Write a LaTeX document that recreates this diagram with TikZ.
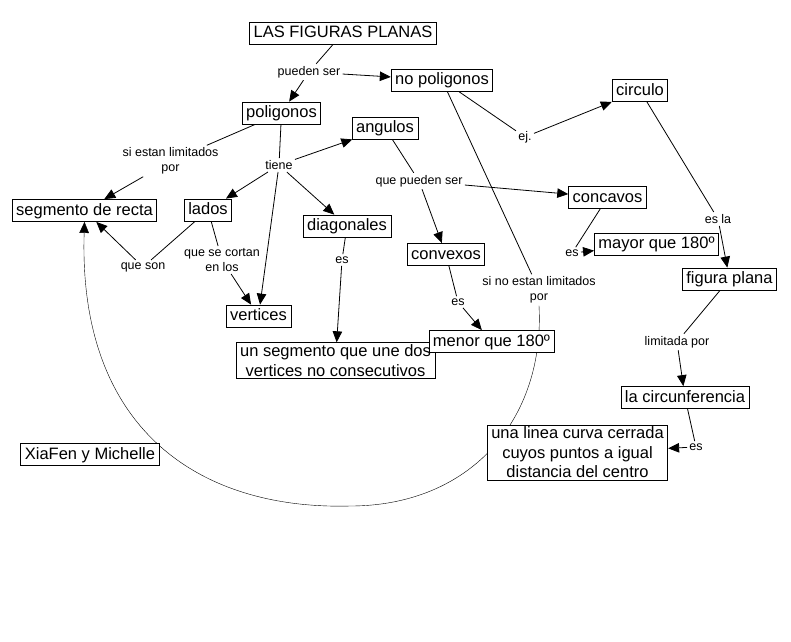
\documentclass[tikz,border=0pt]{standalone}
\usepackage{fontspec}
\setmainfont{Liberation Sans}
\usetikzlibrary{arrows.meta,backgrounds}
\newcommand\cfont{\fontsize{16.5}{19.5}\selectfont}
\newcommand\lfont{\fontsize{12.5}{15}\selectfont}
\begin{document}
\begin{tikzpicture}[x=1pt,y=-1pt,
    >={Triangle[length=11pt,width=9.5pt]},
    line width=0.8pt,
    cn/.style={draw,fill=white,font=\cfont,inner xsep=4pt,inner ysep=3pt,
               text height=12.5pt,text depth=3.5pt},
    cnm/.style={draw,fill=white,font=\cfont,inner xsep=4pt,inner ysep=2pt,
                align=center},
    lb/.style={font=\lfont,inner sep=2pt,align=center}]
  \useasboundingbox (0,0) rectangle (791,641);
  % concepts
  \node[cn] (lfp) at (343,33) {LAS FIGURAS PLANAS};
  \node[cn] (npol) at (442,80) {no poligonos};
  \node[cn] (pol) at (281.5,113) {poligonos};
  \node[cn] (ang) at (385,128) {angulos};
  \node[cn] (circ) at (640,90.5) {circulo};
  \node[cn] (conc) at (607.5,197.5) {concavos};
  \node[cn] (seg) at (84.5,210.5) {segmento de recta};
  \node[cn] (lad) at (208,210) {lados};
  \node[cn] (diag) at (347,226) {diagonales};
  \node[cn] (mayor) at (656.5,244) {mayor que 180º};
  \node[cn] (conv) at (446,254.5) {convexos};
  \node[cn] (fig) at (729.5,279) {figura plana};
  \node[cn] (vert) at (258.5,316) {vertices};
  \node[cnm] (useg) at (335.5,360.5) {un segmento que une dos\\vertices no consecutivos};
  \node[cn] (menor) at (491.5,341.5) {menor que 180º};
  \node[cn] (circunf) at (685,397.5) {la circunferencia};
  \node[cnm] (linea) at (577.5,452.5) {una linea curva cerrada\\cuyos puntos a igual\\distancia del centro};
  \node[cn] (xia) at (90,454.5) {XiaFen y Michelle};
  % linking words
  \node[lb] (pser) at (309,72) {pueden ser};
  \node[lb] (silim) at (170.5,161) {si estan limitados\\por};
  \node[lb] (tiene) at (279,165) {tiene};
  \node[lb] (ej) at (525,137) {ej.};
  \node[lb] (qpser) at (419,181) {que pueden ser};
  \node[lb] (esla) at (718,219) {es la};
  \node[lb] (es3) at (572,253) {es};
  \node[lb] (es1) at (342,260) {es};
  \node[lb] (qson) at (143,267) {que son};
  \node[lb] (qcort) at (222,260) {que se cortan\\en los};
  \node[lb] (sinolim) at (539,290) {si no estan limitados\\por};
  \node[lb] (es2) at (458,302) {es};
  \node[lb] (limpor) at (677,342) {limitada por};
  \node[lb] (es4) at (696,447) {es};
  % links
  \draw (lfp) -- (pser);
  \draw[->] (pser) -- (pol);
  \draw[->] (pser) -- (npol);
  \draw (pol) -- (silim);
  \draw[->] (silim) -- (seg);
  \draw (pol) -- (tiene);
  \draw[->] (tiene) -- (ang);
  \draw[->] (tiene) -- (lad);
  \draw[->] (tiene) -- (diag);
  \draw[->] (tiene) -- (vert);
  \draw (lad) -- (qson);
  \draw[->] (qson) -- (seg);
  \draw (lad) -- (qcort);
  \draw[->] (qcort) -- (vert);
  \draw (diag) -- (es1);
  \draw[->] (es1) -- (useg);
  \draw (ang) -- (qpser);
  \draw[->] (qpser) -- (conc);
  \draw[->] (qpser) -- (conv);
  \draw (conv) -- (es2);
  \draw[->] (es2) -- (menor);
  \draw (conc) -- (es3);
  \draw[->] (es3) -- (mayor);
  \draw (npol) -- (ej);
  \draw[->] (ej) -- (circ);
  \draw (npol) -- (sinolim);
  \draw (circ) -- (esla);
  \draw[->] (esla) -- (fig);
  \draw (fig) -- (limpor);
  \draw[->] (limpor) -- (circunf);
  \draw (circunf) -- (es4);
  \draw[->] (es4) -- (linea);
  \begin{pgfonlayer}{background}
    \draw[->] (sinolim.south) .. controls (545,420) and (470,506) .. (350,506)
      .. controls (200,510) and (78,430) .. (seg.south);
  \end{pgfonlayer}
\end{tikzpicture}
\end{document}
